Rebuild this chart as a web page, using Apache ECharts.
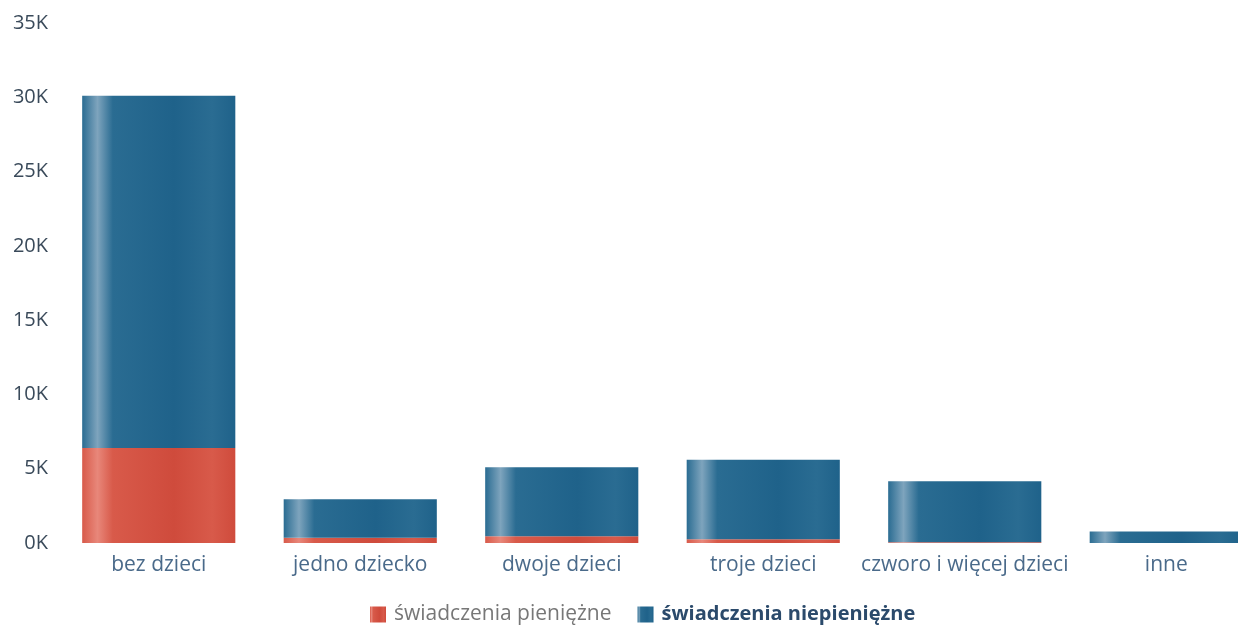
<!DOCTYPE html>
<html>
<head>
<meta charset="utf-8">
<script src="https://cdn.jsdelivr.net/npm/echarts@6/dist/echarts.min.js"></script>
<style>
html,body{margin:0;padding:0;background:#fff;}
#c{width:1238px;height:626px;}
</style>
</head>
<body>
<div id="c"></div>
<script>
var categories = ['bez dzieci', 'jedno dziecko', 'dwoje dzieci', 'troje dzieci', 'czworo i więcej dzieci', 'inne'];
var seriesNames = ['świadczenia pieniężne', 'świadczenia niepieniężne'];
var pieniezne = [6400, 350, 450, 250, 50, 0];
var niepieniezne = [23700, 2600, 4650, 5350, 4100, 780];
var yTicks = [0, 5000, 10000, 15000, 20000, 25000, 30000, 35000];

function grad(light, main, dark) {
  return new echarts.graphic.LinearGradient(0, 0, 1, 0, [
    {offset: 0, color: main},
    {offset: 0.1, color: light},
    {offset: 0.2, color: main},
    {offset: 0.6, color: dark},
    {offset: 0.85, color: main},
    {offset: 1, color: dark}
  ]);
}

var chart = echarts.init(document.getElementById('c'));
chart.setOption({
  animation: false,
  textStyle: {fontFamily: 'Open Sans'},
  grid: {left: 58, width: 1209, top: 23, height: 520, outerBoundsMode: 'none', containLabel: false},
  legend: {
    top: 599, left: 365, itemWidth: 16, itemHeight: 16, itemGap: 26,
    icon: 'rect',
    data: seriesNames,
    formatter: function (n) { return n === seriesNames[1] ? '{b|' + n + '}' : '{n|' + n + '}'; },
    textStyle: {fontSize: 21, color: '#777', fontFamily: 'Open Sans',
      rich: {
        n: {fontSize: 21, color: '#777', fontFamily: 'Open Sans', padding: [0, 0, 0, 3]},
        b: {fontSize: 20, fontWeight: 'bold', color: '#2b4a6b', fontFamily: 'Open Sans', padding: [0, 0, 0, 3]}
      }}
  },
  xAxis: {
    type: 'category', data: categories,
    axisLine: {show: false}, axisTick: {show: false},
    axisLabel: {fontSize: 21, color: '#4a6a8a', margin: 12, interval: 0}
  },
  yAxis: {
    type: 'value', min: yTicks[0], max: yTicks[yTicks.length - 1], interval: 5000,
    splitLine: {show: false}, axisLine: {show: false}, axisTick: {show: false},
    axisLabel: {fontSize: 20, color: '#3a4a5a', margin: 10,
      formatter: function (v) { return (v / 1000) + 'K'; }}
  },
  series: [
    {name: seriesNames[0], type: 'bar', stack: 's', data: pieniezne, barWidth: '76%',
      itemStyle: {color: grad('#e8877a', '#d85a4a', '#cf4b3c')}},
    {name: seriesNames[1], type: 'bar', stack: 's', data: niepieniezne, barWidth: '76%',
      itemStyle: {color: grad('#7ea4bd', '#2a6c92', '#1f628a')}}
  ]
});
</script>
</body>
</html>
